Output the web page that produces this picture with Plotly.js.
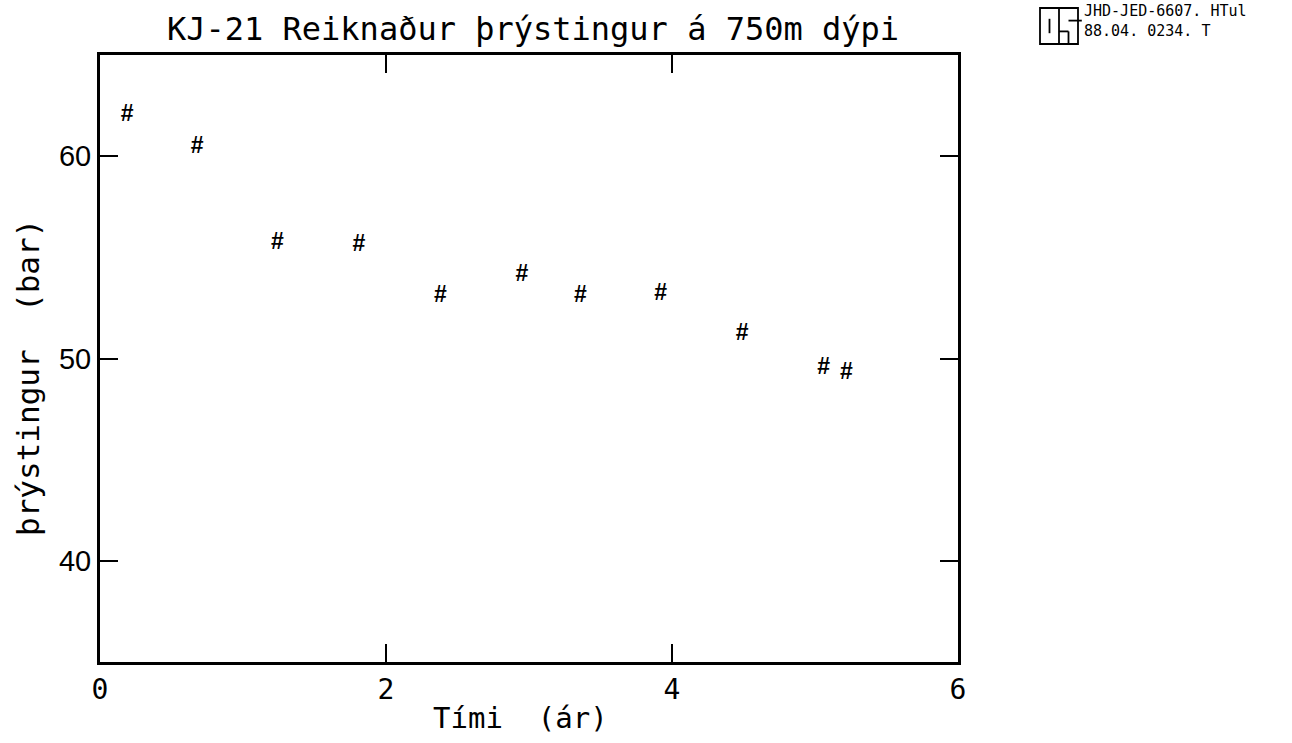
<!DOCTYPE html>
<html>
<head>
<meta charset="utf-8">
<script src="https://cdn.plot.ly/plotly-3.0.1.min.js"></script>
<style>
html,body{margin:0;padding:0;background:#fff;}
#chart{width:1292px;height:743px;}
</style>
</head>
<body>
<div id="chart"></div>
<script>
// Data
const timeYears = [0.19, 0.68, 1.24, 1.81, 2.38, 2.95, 3.36, 3.92, 4.49, 5.06, 5.22];
const pressureBar = [62.0, 60.45, 55.7, 55.6, 53.1, 54.1, 53.1, 53.2, 51.2, 49.5, 49.25];
const xTicks = [0, 2, 4, 6];
const yTicks = [40, 50, 60];
const titleText = "KJ-21 Reiknaður þrýstingur á 750m dýpi";
const xTitleText = "Tími  (ár)";
const yTitleText = "þrýstingur  (bar)";
const stampLine1 = "JHD-JED-6607. HTul";
const stampLine2 = "88.04. 0234. T";

const mono = "DejaVu Sans Mono, Liberation Mono, monospace";

const trace = {
  x: timeYears,
  y: pressureBar,
  mode: "text",
  type: "scatter",
  text: timeYears.map(() => "#"),
  textposition: "middle center",
  textfont: {family: "Liberation Sans, Arial, sans-serif", size: 23, weight: "bold", color: "#000"},
  hoverinfo: "x+y",
  showlegend: false
};

// Logo geometry in pixel space converted to paper coords
const L = 100, R = 958, T = 55, B = 662;
const px = v => (v - L) / (R - L);
const py = v => (B - v) / (B - T);
const bx0 = 1040, bx1 = 1078, by0 = 8, by1 = 44;
const bw = bx1 - bx0, bh = by1 - by0;
function seg(x0, y0, x1, y1) {
  return {type: "line", xref: "paper", yref: "paper",
    x0: px(bx0 + x0 * bw), y0: py(by0 + y0 * bh), x1: px(bx0 + x1 * bw), y1: py(by0 + y1 * bh),
    line: {color: "#000", width: 1.8}};
}
const logoShapes = [
  {type: "rect", xref: "paper", yref: "paper", x0: px(bx0), x1: px(bx1), y0: py(by1), y1: py(by0),
   line: {color: "#000", width: 1.8}},
  seg(0.25, 0.3, 0.25, 0.7),
  seg(0.5, 0, 0.5, 1),
  seg(0.5, 0.65, 0.75, 0.65),
  seg(0.75, 0.65, 0.75, 1),
  seg(0.75, 0.35, 1.1, 0.35)
];

const layout = {
  width: 1292, height: 743,
  margin: {l: L, r: 1292 - R, t: T, b: 743 - B},
  paper_bgcolor: "#fff", plot_bgcolor: "#fff",
  title: {text: titleText, x: 533 / 1292, xanchor: "center", y: 1 - 29 / 743, yanchor: "middle",
          font: {family: mono, size: 32, color: "#000"}},
  xaxis: {
    range: [0, 6], tickvals: xTicks, ticktext: xTicks.map(String),
    ticks: "inside", ticklen: 18, tickwidth: 2, tickcolor: "#000",
    showline: true, linewidth: 3, linecolor: "#000", mirror: "ticks",
    showgrid: false, zeroline: false,
    tickfont: {family: mono, size: 28, color: "#000"}
  },
  yaxis: {
    range: [35, 65], tickvals: yTicks, ticktext: yTicks.map(String),
    ticks: "inside", ticklen: 18, tickwidth: 2, tickcolor: "#000",
    showline: true, linewidth: 3, linecolor: "#000", mirror: "ticks",
    showgrid: false, zeroline: false,
    tickfont: {family: "Liberation Sans, Arial, sans-serif", size: 29, color: "#000"}
  },
  shapes: logoShapes,
  annotations: [
    {text: xTitleText, xref: "paper", yref: "paper", x: px(520), y: py(718), xanchor: "center", yanchor: "middle",
     showarrow: false, font: {family: mono, size: 29, color: "#000"}},
    {text: yTitleText, xref: "paper", yref: "paper", x: px(28), y: py(378), xanchor: "center", yanchor: "middle",
     textangle: -90, showarrow: false, font: {family: mono, size: 31, color: "#000"}},
    {text: stampLine1, xref: "paper", yref: "paper", x: px(1082), y: py(11), xanchor: "left", yanchor: "middle",
     showarrow: false, font: {family: mono, size: 15, color: "#000"}},
    {text: stampLine2, xref: "paper", yref: "paper", x: px(1082), y: py(31), xanchor: "left", yanchor: "middle",
     showarrow: false, font: {family: mono, size: 15, color: "#000"}}
  ]
};

Plotly.newPlot("chart", [trace], layout, {displayModeBar: false});
</script>
</body>
</html>
